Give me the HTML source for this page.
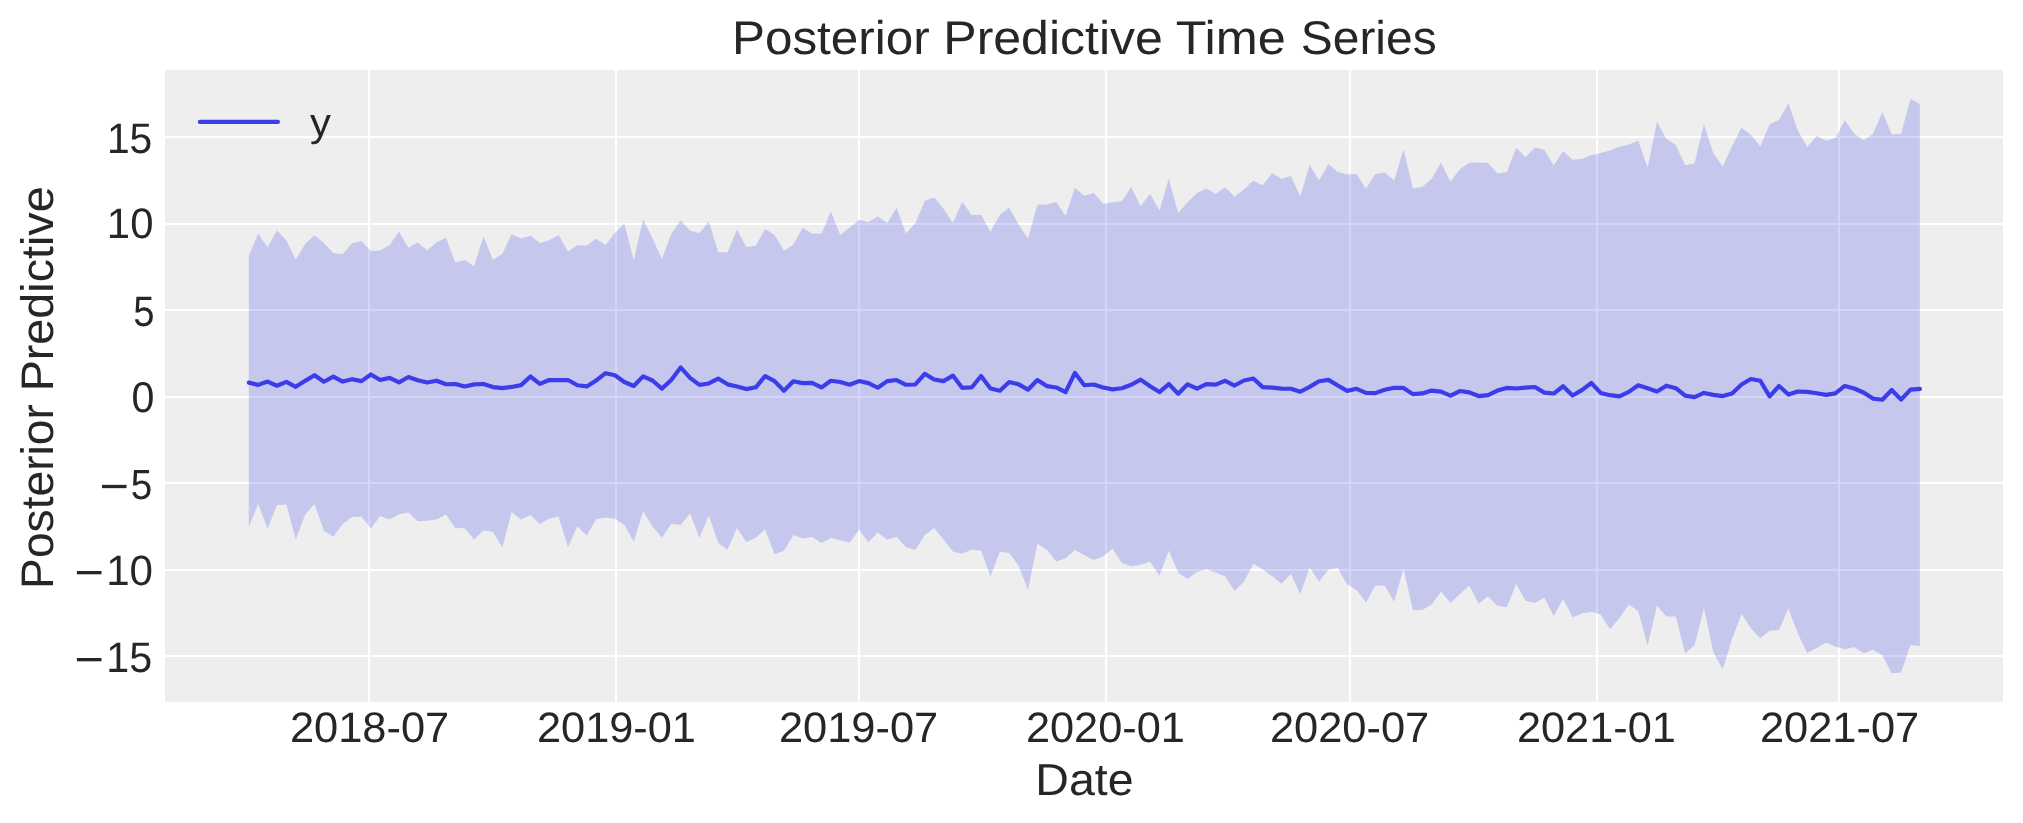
<!DOCTYPE html>
<html><head><meta charset="utf-8"><title>Posterior Predictive Time Series</title>
<style>html,body{margin:0;padding:0;background:#fff;overflow:hidden}svg{display:block}</style></head><body>
<svg width="2023" height="823" viewBox="0 0 2023 823">
<rect x="0" y="0" width="2023" height="823" fill="#ffffff"/>
<rect x="165" y="70" width="1838" height="632" fill="#eeeeee"/>
<path d="M369.00 70V702M616.00 70V702M859.00 70V702M1106.00 70V702M1350.00 70V702M1597.00 70V702M1839.00 70V702M165 137.00H2003M165 224.00H2003M165 310.00H2003M165 397.00H2003M165 483.00H2003M165 570.00H2003M165 656.00H2003" stroke="#ffffff" stroke-width="2.2" fill="none"/>
<polygon points="248.80,255.61 258.19,233.62 267.58,247.42 276.96,230.48 286.35,240.36 295.74,259.50 305.13,243.95 314.52,235.36 323.90,242.97 333.29,253.07 342.68,254.30 352.07,243.33 361.46,240.90 370.84,251.02 380.23,250.19 389.62,244.89 399.01,231.78 408.40,247.74 417.78,242.38 427.17,250.49 436.56,242.36 445.95,237.70 455.34,262.66 464.72,259.95 474.11,266.18 483.50,236.57 492.89,259.87 502.28,254.02 511.66,234.37 521.05,238.50 530.44,235.49 539.83,243.20 549.22,240.15 558.60,235.08 567.99,251.56 577.38,245.23 586.77,245.40 596.16,238.76 605.54,245.12 614.93,232.97 624.32,223.31 633.71,260.20 643.10,219.60 652.48,238.16 661.87,259.01 671.26,233.88 680.65,220.36 690.04,230.74 699.42,233.20 708.81,221.38 718.20,252.26 727.59,252.30 736.98,229.54 746.36,247.06 755.75,245.67 765.14,228.98 774.53,235.10 783.92,250.66 793.30,244.57 802.69,227.65 812.08,233.38 821.47,233.69 830.86,211.47 840.24,234.93 849.63,227.55 859.02,219.84 868.41,222.31 877.80,216.55 887.18,222.93 896.57,207.76 905.96,233.52 915.35,223.26 924.74,200.88 934.12,197.22 943.51,208.83 952.90,222.68 962.29,201.71 971.68,215.12 981.06,214.70 990.45,231.71 999.84,214.65 1009.23,207.63 1018.62,224.47 1028.00,238.42 1037.39,204.84 1046.78,204.42 1056.17,201.96 1065.56,215.73 1074.94,187.74 1084.33,196.10 1093.72,192.79 1103.11,203.84 1112.50,202.26 1121.88,201.34 1131.27,186.91 1140.66,206.19 1150.05,193.65 1159.44,210.56 1168.82,178.71 1178.21,213.08 1187.60,202.34 1196.99,192.94 1206.38,188.42 1215.76,193.91 1225.15,187.30 1234.54,196.65 1243.93,189.32 1253.32,180.66 1262.70,185.53 1272.09,173.03 1281.48,178.73 1290.87,176.09 1300.26,196.17 1309.64,164.63 1319.03,180.54 1328.42,164.05 1337.81,172.02 1347.20,174.51 1356.58,173.97 1365.97,188.66 1375.36,173.99 1384.75,172.41 1394.14,180.60 1403.52,149.42 1412.91,188.16 1422.30,187.03 1431.69,178.87 1441.08,162.71 1450.46,181.72 1459.85,169.35 1469.24,162.81 1478.63,162.44 1488.02,162.91 1497.40,173.60 1506.79,171.96 1516.18,147.76 1525.57,157.07 1534.96,147.61 1544.34,149.82 1553.73,165.38 1563.12,151.02 1572.51,159.77 1581.90,158.63 1591.28,155.32 1600.67,153.12 1610.06,150.61 1619.45,146.71 1628.84,144.53 1638.22,140.53 1647.61,167.70 1657.00,121.91 1666.39,138.87 1675.78,144.91 1685.16,165.29 1694.55,163.36 1703.94,124.05 1713.33,153.25 1722.72,166.55 1732.10,146.03 1741.49,127.76 1750.88,134.87 1760.27,146.52 1769.66,124.32 1779.04,119.82 1788.43,103.29 1797.82,130.48 1807.21,147.03 1816.60,135.76 1825.98,140.52 1835.37,138.11 1844.76,120.27 1854.15,133.54 1863.54,140.16 1872.92,133.96 1882.31,112.04 1891.70,134.36 1901.09,134.08 1910.48,98.69 1919.86,104.09 1919.86,645.97 1910.48,644.99 1901.09,672.44 1891.70,673.23 1882.31,655.14 1872.92,649.85 1863.54,653.37 1854.15,646.89 1844.76,649.31 1835.37,646.43 1825.98,642.58 1816.60,647.91 1807.21,652.99 1797.82,633.44 1788.43,608.40 1779.04,630.09 1769.66,630.76 1760.27,638.20 1750.88,628.23 1741.49,613.88 1732.10,638.77 1722.72,669.46 1713.33,652.28 1703.94,607.95 1694.55,645.19 1685.16,653.44 1675.78,616.55 1666.39,616.52 1657.00,605.50 1647.61,645.43 1638.22,611.34 1628.84,604.45 1619.45,617.97 1610.06,629.28 1600.67,614.52 1591.28,611.64 1581.90,613.62 1572.51,617.20 1563.12,598.77 1553.73,616.05 1544.34,597.60 1534.96,602.92 1525.57,600.79 1516.18,584.07 1506.79,607.31 1497.40,605.74 1488.02,596.36 1478.63,603.91 1469.24,585.54 1459.85,593.90 1450.46,603.10 1441.08,591.50 1431.69,604.55 1422.30,610.02 1412.91,610.14 1403.52,568.93 1394.14,601.64 1384.75,585.65 1375.36,585.48 1365.97,602.58 1356.58,590.08 1347.20,584.53 1337.81,568.11 1328.42,569.86 1319.03,581.62 1309.64,567.42 1300.26,594.37 1290.87,573.73 1281.48,583.73 1272.09,576.07 1262.70,569.39 1253.32,563.74 1243.93,581.84 1234.54,590.94 1225.15,576.37 1215.76,572.81 1206.38,569.32 1196.99,572.01 1187.60,579.08 1178.21,572.89 1168.82,550.52 1159.44,575.84 1150.05,561.76 1140.66,564.83 1131.27,566.36 1121.88,562.88 1112.50,548.80 1103.11,556.58 1093.72,559.90 1084.33,555.35 1074.94,549.96 1065.56,558.22 1056.17,561.48 1046.78,549.77 1037.39,543.71 1028.00,589.94 1018.62,565.71 1009.23,552.94 999.84,551.72 990.45,576.60 981.06,550.70 971.68,549.62 962.29,553.79 952.90,551.62 943.51,539.46 934.12,528.09 924.74,534.90 915.35,550.10 905.96,547.14 896.57,536.77 887.18,539.75 877.80,532.41 868.41,542.29 859.02,529.63 849.63,542.64 840.24,540.36 830.86,537.88 821.47,543.06 812.08,536.90 802.69,538.56 793.30,534.97 783.92,550.68 774.53,554.16 765.14,529.29 755.75,537.81 746.36,542.00 736.98,528.07 727.59,549.56 718.20,543.08 708.81,515.60 699.42,537.95 690.04,513.23 680.65,525.02 671.26,523.76 661.87,537.65 652.48,526.54 643.10,511.30 633.71,541.81 624.32,524.85 614.93,519.00 605.54,517.54 596.16,519.16 586.77,535.58 577.38,526.22 567.99,547.30 558.60,516.70 549.22,518.41 539.83,524.28 530.44,515.07 521.05,519.45 511.66,512.12 502.28,547.53 492.89,532.01 483.50,530.27 474.11,539.75 464.72,528.19 455.34,528.08 445.95,514.60 436.56,519.19 427.17,520.80 417.78,521.36 408.40,512.48 399.01,514.21 389.62,519.41 380.23,516.12 370.84,528.53 361.46,516.61 352.07,516.98 342.68,523.97 333.29,536.77 323.90,530.70 314.52,503.97 305.13,514.65 295.74,539.52 286.35,504.42 276.96,504.89 267.58,528.70 258.19,503.67 248.80,527.16" fill="rgba(42,46,236,0.2)"/>
<polyline points="248.80,382.62 258.19,384.85 267.58,381.59 276.96,385.74 286.35,381.88 295.74,386.78 305.13,380.85 314.52,375.21 323.90,381.74 333.29,376.69 342.68,381.59 352.07,379.21 361.46,381.14 370.84,374.47 380.23,379.96 389.62,377.88 399.01,382.33 408.40,376.99 417.78,380.25 427.17,382.48 436.56,380.70 445.95,384.26 455.34,383.96 464.72,386.48 474.11,384.40 483.50,383.96 492.89,387.07 502.28,388.11 511.66,386.93 521.05,385.15 530.44,376.51 539.83,383.93 549.22,380.04 558.60,380.19 567.99,380.04 577.38,385.23 586.77,386.42 596.16,380.48 605.54,373.22 614.93,375.29 624.32,381.97 633.71,385.97 643.10,376.33 652.48,380.48 661.87,388.64 671.26,380.04 680.65,367.43 690.04,377.82 699.42,384.93 708.81,383.45 718.20,378.56 727.59,384.34 736.98,386.42 746.36,389.09 755.75,387.31 765.14,376.04 774.53,381.08 783.92,390.72 793.30,381.23 802.69,383.15 812.08,382.86 821.47,387.45 830.86,380.78 840.24,381.97 849.63,384.78 859.02,381.08 868.41,383.15 877.80,387.75 887.18,381.08 896.57,380.04 905.96,384.78 915.35,384.49 924.74,373.81 934.12,379.45 943.51,381.08 952.90,375.59 962.29,387.90 971.68,387.45 981.06,376.04 990.45,388.49 999.84,390.72 1009.23,381.97 1018.62,384.34 1028.00,389.68 1037.39,380.04 1046.78,386.12 1056.17,387.45 1065.56,392.20 1074.94,372.92 1084.33,385.23 1093.72,384.49 1103.11,387.45 1112.50,389.38 1121.88,388.20 1131.27,384.78 1140.66,379.59 1150.05,386.27 1159.44,392.05 1168.82,384.04 1178.21,393.83 1187.60,384.34 1196.99,388.64 1206.38,384.19 1215.76,384.64 1225.15,380.78 1234.54,385.53 1243.93,380.48 1253.32,378.56 1262.70,387.16 1272.09,387.60 1281.48,388.64 1290.87,388.79 1300.26,391.75 1309.64,386.86 1319.03,381.23 1328.42,379.89 1337.81,385.53 1347.20,390.87 1356.58,388.79 1365.97,392.94 1375.36,393.09 1384.75,389.68 1394.14,387.75 1403.52,387.90 1412.91,394.13 1422.30,393.39 1431.69,390.57 1441.08,391.61 1450.46,395.61 1459.85,391.01 1469.24,392.35 1478.63,396.06 1488.02,395.17 1497.40,390.57 1506.79,387.90 1516.18,388.49 1525.57,387.60 1534.96,387.01 1544.34,392.64 1553.73,393.53 1563.12,386.27 1572.51,395.46 1581.90,390.12 1591.28,383.01 1600.67,392.94 1610.06,395.17 1619.45,396.35 1628.84,391.90 1638.22,385.23 1647.61,388.20 1657.00,391.46 1666.39,385.67 1675.78,388.20 1685.16,395.61 1694.55,397.09 1703.94,392.94 1713.33,394.87 1722.72,396.06 1732.10,393.39 1741.49,384.49 1750.88,379.00 1760.27,380.78 1769.66,396.35 1779.04,385.97 1788.43,394.57 1797.82,391.46 1807.21,391.90 1816.60,393.24 1825.98,394.87 1835.37,393.39 1844.76,385.97 1854.15,388.49 1863.54,392.50 1872.92,398.58 1882.31,399.76 1891.70,389.98 1901.09,399.61 1910.48,389.68 1919.86,388.94" fill="none" stroke="#3a3de9" stroke-width="4.17" stroke-linejoin="round" stroke-linecap="round"/>
<path d="M199.9 121.9H277.9" stroke="#3a3de9" stroke-width="4.17" stroke-linecap="round" fill="none"/>
<g opacity="0.999">
<text font-family="Liberation Sans, sans-serif" text-rendering="geometricPrecision" font-size="40" fill="#262626" transform="matrix(1.04592 0 0 0.99320 310.091 135.656)">y</text>
<text font-family="Liberation Sans, sans-serif" text-rendering="geometricPrecision" font-size="40" fill="#262626" transform="matrix(1.23560 0 0 1.18367 731.946 54.127)">Posterior</text>
<text font-family="Liberation Sans, sans-serif" text-rendering="geometricPrecision" font-size="40" fill="#262626" transform="matrix(1.25029 0 0 1.18367 943.299 54.127)">Predictive</text>
<text font-family="Liberation Sans, sans-serif" text-rendering="geometricPrecision" font-size="40" fill="#262626" transform="matrix(1.26005 0 0 1.18367 1175.640 54.127)">Time</text>
<text font-family="Liberation Sans, sans-serif" text-rendering="geometricPrecision" font-size="40" fill="#262626" transform="matrix(1.19873 0 0 1.18367 1300.742 54.127)">Series</text>
<text font-family="Liberation Sans, sans-serif" text-rendering="geometricPrecision" font-size="40" fill="#262626" transform="matrix(1.16332 0 0 1.12230 1035.277 795.451)">Date</text>
<text font-family="Liberation Sans, sans-serif" text-rendering="geometricPrecision" font-size="40" fill="#262626" transform="rotate(-90) matrix(1.15429 0 0 1.13946 -588.894 53.144)">Posterior</text>
<text font-family="Liberation Sans, sans-serif" text-rendering="geometricPrecision" font-size="40" fill="#262626" transform="rotate(-90) matrix(1.16706 0 0 1.13946 -391.335 53.144)">Predictive</text>
<text font-family="Liberation Sans, sans-serif" text-rendering="geometricPrecision" font-size="40" fill="#262626" transform="matrix(1.08578 0 0 1.06338 289.878 742.375)">2018-07</text>
<text font-family="Liberation Sans, sans-serif" text-rendering="geometricPrecision" font-size="40" fill="#262626" transform="matrix(1.08298 0 0 1.06338 536.984 742.375)">2019-01</text>
<text font-family="Liberation Sans, sans-serif" text-rendering="geometricPrecision" font-size="40" fill="#262626" transform="matrix(1.08578 0 0 1.06338 778.878 742.375)">2019-07</text>
<text font-family="Liberation Sans, sans-serif" text-rendering="geometricPrecision" font-size="40" fill="#262626" transform="matrix(1.08298 0 0 1.06338 1025.884 742.375)">2020-01</text>
<text font-family="Liberation Sans, sans-serif" text-rendering="geometricPrecision" font-size="40" fill="#262626" transform="matrix(1.08578 0 0 1.06338 1269.878 742.375)">2020-07</text>
<text font-family="Liberation Sans, sans-serif" text-rendering="geometricPrecision" font-size="40" fill="#262626" transform="matrix(1.08298 0 0 1.06338 1516.884 742.375)">2021-01</text>
<text font-family="Liberation Sans, sans-serif" text-rendering="geometricPrecision" font-size="40" fill="#262626" transform="matrix(1.08578 0 0 1.06338 1759.878 742.375)">2021-07</text>
<text font-family="Liberation Sans, sans-serif" text-rendering="geometricPrecision" font-size="40" fill="#262626" transform="matrix(1.01884 0 0 1.06655 106.943 153.273)">15</text>
<text font-family="Liberation Sans, sans-serif" text-rendering="geometricPrecision" font-size="40" fill="#262626" transform="matrix(1.04625 0 0 1.06514 106.861 238.074)">10</text>
<text font-family="Liberation Sans, sans-serif" text-rendering="geometricPrecision" font-size="40" fill="#262626" transform="matrix(0.95526 0 0 1.06295 133.272 326.075)">5</text>
<text font-family="Liberation Sans, sans-serif" text-rendering="geometricPrecision" font-size="40" fill="#262626" transform="matrix(1.02895 0 0 1.07218 131.554 412.071)">0</text>
<text font-family="Liberation Sans, sans-serif" text-rendering="geometricPrecision" font-size="40" fill="#262626" transform="matrix(0.96579 0 0 1.05396 130.655 498.978)">5</text>
<rect x="102.00" y="484.85" width="24.50" height="3.3" fill="#262626"/>
<text font-family="Liberation Sans, sans-serif" text-rendering="geometricPrecision" font-size="40" fill="#262626" transform="matrix(1.05375 0 0 1.05986 106.139 585.026)">10</text>
<rect x="76.90" y="571.00" width="24.60" height="3.3" fill="#262626"/>
<text font-family="Liberation Sans, sans-serif" text-rendering="geometricPrecision" font-size="40" fill="#262626" transform="matrix(1.03141 0 0 1.06655 106.206 672.273)">15</text>
<rect x="76.90" y="658.00" width="24.60" height="3.3" fill="#262626"/>
</g>
</svg></body></html>
